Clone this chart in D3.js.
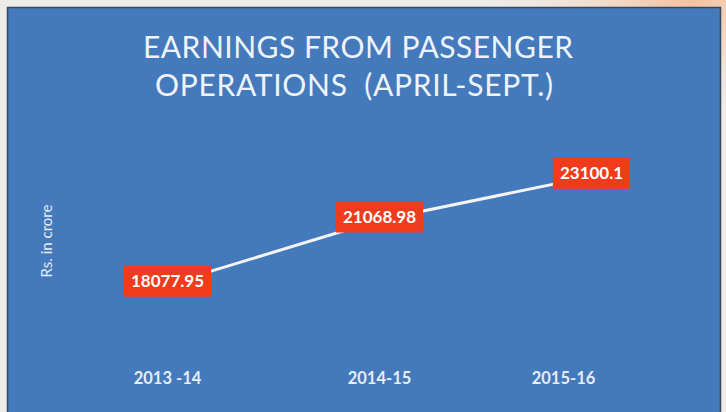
<!DOCTYPE html>
<html>
<head>
<meta charset="utf-8">
<script src="https://cdn.jsdelivr.net/npm/d3@7"></script>
<style>
  html, body { margin: 0; padding: 0; background: #efebe7; }
  svg { display: block; }
</style>
</head>
<body>
<div id="vis"></div>
<script>
// chart data
const years = ["2013 -14", "2014-15", "2015-16"];
const earnings = [18077.95, 21068.98, 23100.1];
const titleLines = ["EARNINGS FROM PASSENGER", "OPERATIONS  (APRIL-SEPT.)"];
const yTitle = "Rs. in crore";

const svg = d3.select("#vis")
    .append("svg")
    .attr("width", 726)
    .attr("height", 412);

// faint peach glow in top right corner of the slide
const defs = svg.append("defs");
const glow = defs.append("radialGradient")
    .attr("id", "glow")
    .attr("cx", 0.95).attr("cy", 0).attr("r", 0.3);
glow.append("stop").attr("offset", "0%").attr("stop-color", "#f5c09f");
glow.append("stop").attr("offset", "100%").attr("stop-color", "#efebe7").attr("stop-opacity", 0);

svg.append("rect")
    .attr("width", 726).attr("height", 412)
    .attr("fill", "url(#glow)");

// blue panel
svg.append("rect")
    .attr("x", 7.5).attr("y", 7.5)
    .attr("width", 713).attr("height", 420)
    .attr("fill", "#4479bb")
    .attr("stroke", "#34495e")
    .attr("stroke-width", 1.5);

// title
const titlePos = [{x: 143, y: 58, w: 430}, {x: 155, y: 96, w: 398}];
svg.append("g")
    .selectAll("text")
    .data(titleLines)
    .join("text")
    .attr("x", (d, i) => titlePos[i].x)
    .attr("y", (d, i) => titlePos[i].y)
    .attr("textLength", (d, i) => titlePos[i].w)
    .attr("lengthAdjust", "spacing")
    .style("white-space", "pre")
    .attr("font-family", "Lato, sans-serif")
    .attr("font-size", 30)
    .attr("fill", "#eef3fa")
    .text(d => d);

// scales
const x = d3.scaleBand()
    .domain(years)
    .range([61.5, 697.5]);

const y = d3.scaleLinear()
    .domain([16000, 24000])
    .range([329, 157]);

const cx = d => x(d) + x.bandwidth() / 2;

// x axis labels
const xAxis = svg.append("g")
    .attr("transform", "translate(0,372)")
    .call(d3.axisBottom(x).tickSize(0).tickPadding(0));
xAxis.select(".domain").remove();
xAxis.selectAll("text")
    .attr("font-family", "Lato, sans-serif")
    .attr("font-weight", "bold")
    .attr("font-size", 16.5)
    .attr("fill", "#e6edf7");
// last label sits a bit left of its point in the original
xAxis.selectAll(".tick").filter(d => d === years[2])
    .select("text").attr("dx", -28);

// y axis title
svg.append("text")
    .attr("transform", "translate(52,241) rotate(-90)")
    .attr("text-anchor", "middle")
    .attr("font-family", "Lato, sans-serif")
    .attr("font-size", 15)
    .attr("fill", "#e3ebf6")
    .text(yTitle);

// line
const line = d3.line()
    .x((d, i) => cx(years[i]))
    .y(d => y(d));

svg.append("path")
    .datum(earnings)
    .attr("d", line)
    .attr("fill", "none")
    .attr("stroke", "#f4f4f4")
    .attr("stroke-width", 3);

// value labels
const labels = svg.append("g")
    .selectAll("g")
    .data(earnings)
    .join("g")
    .attr("transform", (d, i) => `translate(${cx(years[i])},${y(d) - 3})`);

labels.append("rect")
    .attr("fill", "#f03c1d");

labels.append("text")
    .attr("text-anchor", "middle")
    .attr("y", 6)
    .attr("font-family", "Lato, sans-serif")
    .attr("font-weight", "bold")
    .attr("font-size", 17)
    .attr("fill", "#ffffff")
    .text(d => d);

labels.each(function () {
    const g = d3.select(this);
    const w = g.select("text").node().getComputedTextLength() + 14;
    g.select("rect")
        .attr("x", -w / 2).attr("y", -15.5)
        .attr("width", w).attr("height", 31);
});
</script>
</body>
</html>
